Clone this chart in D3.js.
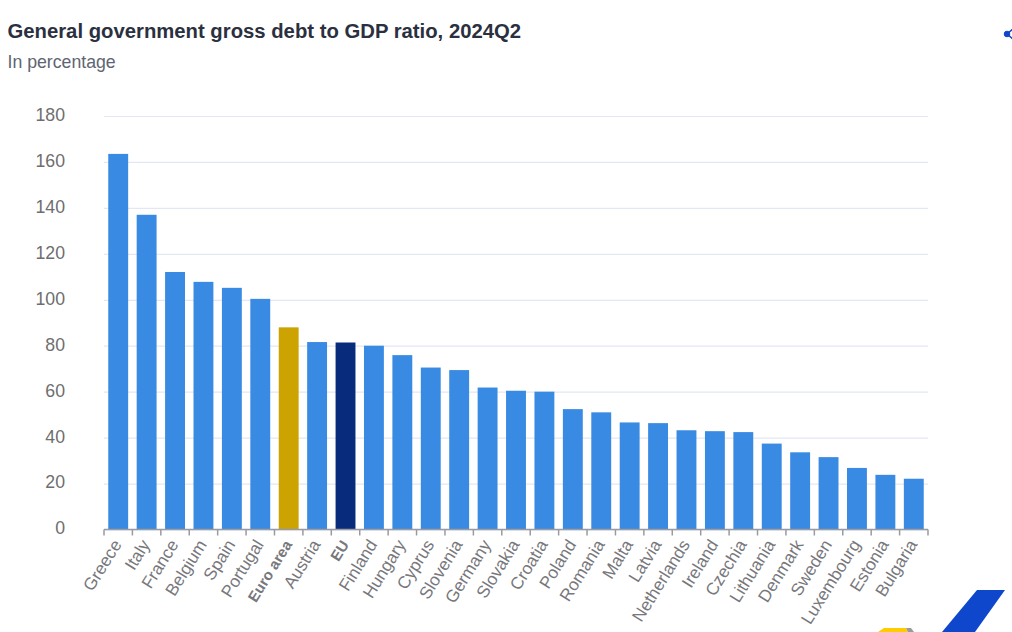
<!DOCTYPE html>
<html>
<head>
<meta charset="utf-8">
<script src="https://cdn.jsdelivr.net/npm/d3@7"></script>
<style>
  html, body { margin: 0; padding: 0; background: #fff; overflow: hidden; }
  text { font-family: "Liberation Sans", Arial, sans-serif; }
</style>
</head>
<body>
<div id="chart"></div>
<script>
// chart values
var countries = ["Greece", "Italy", "France", "Belgium", "Spain", "Portugal", "Euro area", "Austria", "EU",
  "Finland", "Hungary", "Cyprus", "Slovenia", "Germany", "Slovakia", "Croatia", "Poland", "Romania", "Malta",
  "Latvia", "Netherlands", "Ireland", "Czechia", "Lithuania", "Denmark", "Sweden", "Luxembourg", "Estonia", "Bulgaria"];
var debtRatio = [163.5, 137.0, 112.1, 107.8, 105.2, 100.4, 88.0, 81.6, 81.4,
  80.0, 75.9, 70.5, 69.4, 61.8, 60.4, 60.0, 52.4, 51.0, 46.6,
  46.3, 43.2, 42.8, 42.4, 37.4, 33.6, 31.5, 26.8, 23.8, 22.1];
var yTicks = [0, 20, 40, 60, 80, 100, 120, 140, 160, 180];
var aggregates = ["Euro area", "EU"];
var titleText = "General government gross debt to GDP ratio, 2024Q2";
var subtitleText = "In percentage";

var svgWidth = 1012;
var svgHeight = 632;

var margin = {
  top: 116,
  right: 84,
  bottom: 102.5,
  left: 104
};

var width = svgWidth - margin.left - margin.right;
var height = svgHeight - margin.top - margin.bottom;

var barColor = function(name) {
  if (name === "Euro area") return "#cca300";
  if (name === "EU") return "#082b7c";
  return "#388ae2";
};

var svg = d3.select("#chart")
  .append("svg")
  .attr("width", svgWidth)
  .attr("height", svgHeight)
  .style("display", "block");

svg.append("text")
  .attr("x", 7.5)
  .attr("y", 38)
  .attr("font-size", 20.3)
  .attr("font-weight", "bold")
  .attr("fill", "#2b3040")
  .text(titleText);

svg.append("text")
  .attr("x", 7.5)
  .attr("y", 68)
  .attr("font-size", 17.7)
  .attr("fill", "#5f6472")
  .text(subtitleText);

var chartGroup = svg.append("g")
  .attr("transform", `translate(${margin.left}, ${margin.top})`);

var xScale = d3.scaleBand()
  .domain(countries)
  .range([0, width])
  .paddingInner(0.3)
  .paddingOuter(0.15);

var yScale = d3.scaleLinear()
  .domain([0, 180])
  .range([height, 0]);

// gridlines and y labels
var yAxis = d3.axisLeft(yScale)
  .tickValues(yTicks)
  .tickSize(-width)
  .tickPadding(39);

var yGroup = chartGroup.append("g").call(yAxis);
yGroup.select(".domain").remove();
yGroup.selectAll(".tick line")
  .attr("stroke", "#e3e7f4")
  .attr("stroke-width", 1.2);
yGroup.selectAll(".tick text")
  .attr("font-size", 17.7)
  .attr("fill", "#6e6e6e")
  .attr("dy", "0.25em")
  .style("font-family", "'Liberation Sans', Arial, sans-serif");

// bars
chartGroup.selectAll(".bar")
  .data(countries)
  .enter()
  .append("rect")
  .attr("class", "bar")
  .attr("x", d => xScale(d))
  .attr("y", (d, i) => yScale(debtRatio[i]))
  .attr("width", xScale.bandwidth())
  .attr("height", (d, i) => height - yScale(debtRatio[i]))
  .attr("fill", d => barColor(d));

// x axis: ticks sit on the band edges, labels are rotated under the band centre
var xGroup = chartGroup.append("g")
  .attr("transform", `translate(0, ${height})`);

var step = xScale.step();
var edges = d3.range(countries.length + 1).map(i => i * step);

xGroup.append("line")
  .attr("x1", 0)
  .attr("x2", width)
  .attr("stroke", "#999aa3")
  .attr("stroke-width", 1.5);

xGroup.selectAll(".edge")
  .data(edges)
  .enter()
  .append("line")
  .attr("class", "edge")
  .attr("x1", d => d)
  .attr("x2", d => d)
  .attr("y1", 0)
  .attr("y2", 6)
  .attr("stroke", "#999aa3")
  .attr("stroke-width", 1.5);

xGroup.selectAll(".label")
  .data(countries)
  .enter()
  .append("text")
  .attr("class", "label")
  .attr("text-anchor", "end")
  .attr("font-size", d => aggregates.includes(d) ? 15 : 17.2)
  .attr("fill", "#77777c")
  .attr("font-weight", d => aggregates.includes(d) ? "bold" : "normal")
  .attr("transform", d => `translate(${xScale(d) + xScale.bandwidth() / 2 + 4}, 15) rotate(-58)`)
  .text(d => d);

// share icon, cut off by the right edge
var share = svg.append("g").attr("fill", "#0e47cb").attr("stroke", "#0e47cb");
share.append("circle").attr("cx", 1007).attr("cy", 34).attr("r", 2.8);
share.append("line").attr("x1", 1007).attr("y1", 34).attr("x2", 1013).attr("y2", 29).attr("stroke-width", 1.5);
share.append("line").attr("x1", 1007).attr("y1", 34).attr("x2", 1013).attr("y2", 39).attr("stroke-width", 1.5);

// logo pieces at the bottom right
svg.append("polygon")
  .attr("points", "977,590 1005,590 975,632 942,632")
  .attr("fill", "#0e47cb");
svg.append("polygon")
  .attr("points", "878,632 884,628 906,628 908,632")
  .attr("fill", "#ffcc00");
svg.append("polygon")
  .attr("points", "906,628 911,628 914,632 908,632")
  .attr("fill", "#9a9a9a");
</script>
</body>
</html>
